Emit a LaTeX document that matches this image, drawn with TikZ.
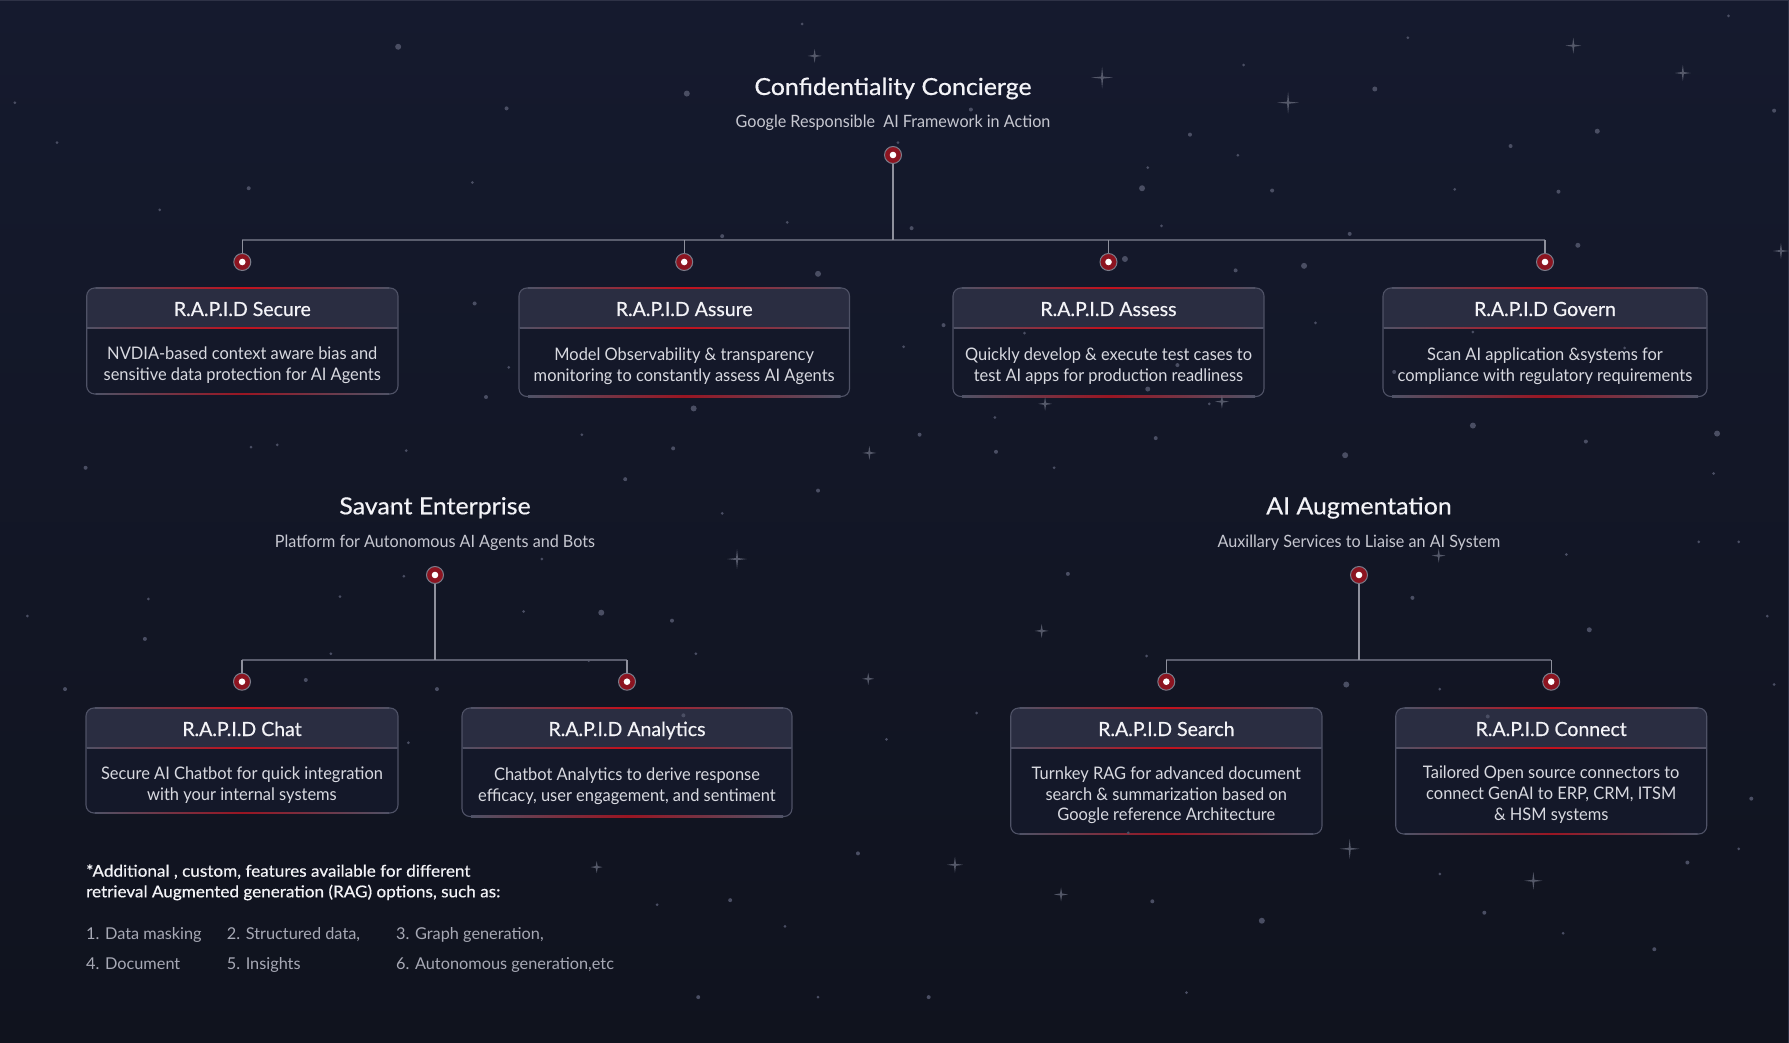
\documentclass[tikz,border=0pt]{standalone}
\usepackage{fontspec}
\setmainfont{Lato}
\newfontfamily\medfont[FakeBold=0.5]{Lato}
\newfontfamily\widemed[FakeBold=0.5,FakeStretch=1.06]{Lato}
\newfontfamily\notefont[FakeBold=0.5,FakeStretch=1.05]{Lato}
\newfontfamily\descfont[FakeStretch=0.95]{Lato}
\usetikzlibrary{calc}
\definecolor{bgtop}{HTML}{151A2E}
\definecolor{bgbot}{HTML}{10131E}
\definecolor{headfill}{HTML}{2A2D41}
\definecolor{bodyfill}{HTML}{141829}
\definecolor{bordercol}{HTML}{4F5266}
\definecolor{glow}{HTML}{C4101C}
\definecolor{softglow}{HTML}{9A1522}
\definecolor{stemcol}{HTML}{8E909C}
\definecolor{barcol}{HTML}{5A5D6D}
\definecolor{dotred}{HTML}{8C1420}
\definecolor{dotring}{HTML}{7A7C8A}
\definecolor{titlecol}{HTML}{F3F3F7}
\definecolor{subtxt}{HTML}{C6C7D0}
\definecolor{desctxt}{HTML}{D8D9E0}
\definecolor{listtxt}{HTML}{A7A9B5}
\definecolor{starcol}{HTML}{4A4E63}
\definecolor{edgecol}{HTML}{2E3246}
\tikzset{
  secttitle/.style={font=\widemed\fontsize{23.5}{28}\selectfont, text=titlecol, anchor=base, inner sep=0},
  sectsub/.style={font=\descfont\fontsize{17}{20}\selectfont, text=subtxt, anchor=base, inner sep=0},
  boxframe/.style={draw=bordercol, line width=1.1pt, rounded corners=8pt, inner sep=0, outer sep=0},
  boxtitle/.style={font=\medfont\fontsize{19.5}{23}\selectfont, text=titlecol, anchor=base, inner sep=0},
  desc/.style={font=\descfont\fontsize{17.3}{20}\selectfont, text=desctxt, anchor=base, inner sep=0},
  notetxt/.style={font=\notefont\fontsize{16.3}{20}\selectfont, text=titlecol, anchor=base west, inner sep=0},
  listitem/.style={font=\fontsize{16.3}{20}\selectfont, text=listtxt, anchor=base west, inner sep=0},
  pindot/.style={circle, fill=dotred, draw=dotring, line width=1pt, minimum size=17pt, inner sep=0,
    path picture={\fill[white] (path picture bounding box.center) circle (3.3pt);}},
  stem/.style={draw=stemcol, line width=1.3pt},
  barline/.style={draw=barcol, line width=1.4pt},
  glowline/.style={left color=bordercol, right color=bordercol, middle color=glow},
  softglowline/.style={left color=bordercol, right color=bordercol, middle color=softglow},
}
\newcommand\rapidbox[6]{%
  \begin{scope}
    \clip[rounded corners=8pt] (#2,#3) rectangle (#4,#5);
    \fill[bodyfill] (#2,#3) rectangle (#4,#5);
    \fill[headfill] (#2,#3) rectangle (#4,#3+40);
  \end{scope}
  \shade[glowline] (#2+0.5,#3+39.3) rectangle (#4-0.5,#3+40.7);
  \node[boxframe, minimum width={#4-#2}, minimum height={#5-#3}] (#1) at ({(#2+#4)/2},{(#3+#5)/2}) {};
  \shade[glowline] (#2+9,#3-0.7) rectangle (#4-9,#3+0.7);
  \shade[softglowline] (#2+9,#5-0.55) rectangle (#4-9,#5+0.55);
  \node[boxtitle] (#1-title) at ({(#2+#4)/2},#3+28) {#6};
}
\begin{document}
\begin{tikzpicture}[x=1pt,y=-1pt]
\useasboundingbox (0,0) rectangle (1789,1043);
\shade[top color=bgtop, bottom color=bgbot] (0,0) rectangle (1789,1043);
\draw[edgecol, line width=1.5pt] (0,0.75) -- (1788.25,0.75) -- (1788.25,1043);

% ---------- boxes ----------
\rapidbox{secure}{86.7}{288}{398}{394}{R.A.P.I.D Secure}
\rapidbox{assure}{519}{288}{849.5}{396.5}{R.A.P.I.D Assure}
\rapidbox{assess}{953}{288}{1264}{396.5}{R.A.P.I.D Assess}
\rapidbox{govern}{1383}{288}{1707}{396.5}{R.A.P.I.D Govern}
\rapidbox{chat}{86}{708}{398}{813}{R.A.P.I.D Chat}
\rapidbox{analytics}{462}{708}{792}{816.5}{R.A.P.I.D Analytics}
\rapidbox{search}{1010.7}{708}{1322}{834}{R.A.P.I.D Search}
\rapidbox{connect}{1395.7}{708}{1706.7}{834}{R.A.P.I.D Connect}

% ---------- stars ----------
\foreach \sx/\sy/\sr in {
349/41/3, 444/95/2, 602/82/3, 703/21/1.5, 1205/78/2.5, 1234/33/1.5, 1324/128/2, 1400/115/2.5,
1043/118/2, 1001/165/3, 1115/167/2, 1183/205/2, 1143/233/3, 1083/237/2, 1018/198/1.5, 1006/147/1.5,
986/227/3, 1085/136/1.5, 1275/166/1.5, 1366/168/2, 1383/215/2.5, 1291/291/1.5, 1291/373/3, 1179/399/3,
1222/326/2, 1424/305/1.5, 1390/387/2, 1502/415/1.5, 1505/380/3, 1524/475/1.5, 1555/600/1.5, 1535/700/2,
1393/552/2.5, 1373/486/1.5, 1238/524/2, 1262/604/1.5, 1304/628/2, 1180/600/3, 1106/807/3, 1262/766/1.5,
1301/800/2, 1370/818/1.5, 1479/756/2, 1524/744/1.5, 1450/832/2, 1040/870/1.5, 1010/790/2, 989/730/1.5,
856/625/1.5, 936/503/2, 1005/575/1.5, 924/410/1.5, 872/366/1.5, 873/396/2, 633/450/1.5, 717/430/2,
590/393/2, 608/358/3, 510/381/1.5, 548/420/2, 475/490/1.5, 459/536/1.5, 527/537/3, 516/579/1.5,
589/544/2, 610/573/1.5, 599/627/2, 657/700/3, 777/648/1.5, 752/748/2, 814/874/2, 576/793/1.5,
640/789/2, 688/812/1.5, 717/874/1.5, 612/874/2, 414/160/1.5, 416/266/2, 446/322/1.5, 426/348/2,
356/395/1.5, 343/444/1.5, 220/392/1.5, 243/390/1.5, 75/410/2, 24/540/1.5, 57/604/2, 130/525/1.5,
127/560/2, 298/523/1.5, 354/505/1.5, 290/573/1.5, 268/596/2, 383/604/2, 358/651/1.5, 690/195/1.5,
633/207/2, 717/240/3, 799/200/2, 787/125/1.5, 842/73/1.5, 851/96/2, 1090/57/1.5, 1153/283/1.5,
827/285/2, 792/304/1.5, 806/381/2, 898/292/1.5, 1013/384/2, 1006/341/2.5, 1060/354/1.5, 1032/320/2,
50/125/1.5, 13/90/1.5, 218/165/2, 140/184/1.5, 1489/475/1.5, 1555/97/2, 1515/14/1.5, 1549/540/1.5}
  \fill[starcol] (\sx*1.1409,\sy*1.1409) circle (\sr pt);
\foreach \sx/\sy/\ss in {966/68/11, 1129/90/11, 1379/40/8, 1475/64/8, 1561/220/8, 1183/744/10, 1344/772/9,
930/784/7, 837/758/8, 913/553/7, 916/354/7, 762/397/7, 646/490/10, 761/595/6, 523/760/6, 714/49/7,
1071/352/7, 1261/487/7}
  \fill[starcol!85!white, opacity=0.8] ({\sx*1.1409},{\sy*1.1409-\ss}) -- ({\sx*1.1409+1},{\sy*1.1409-1})
     -- ({\sx*1.1409+\ss},{\sy*1.1409}) -- ({\sx*1.1409+1},{\sy*1.1409+1}) -- ({\sx*1.1409},{\sy*1.1409+\ss})
     -- ({\sx*1.1409-1},{\sy*1.1409+1}) -- ({\sx*1.1409-\ss},{\sy*1.1409}) -- ({\sx*1.1409-1},{\sy*1.1409-1}) -- cycle;

% ---------- section titles ----------
\node[secttitle] (cc) at (893,95) {Confidentiality Concierge};
\node[sectsub] (ccsub) at (893,127.3) {Google Responsible\ \ AI Framework in Action};
\node[secttitle] (se) at (435,514.3) {Savant Enterprise};
\node[sectsub] (sesub) at (435,547.7) {Platform for Autonomous AI Agents and Bots};
\node[secttitle] (aa) at (1359,514.3) {AI Augmentation};
\node[sectsub] (aasub) at (1359,547.7) {Auxillary Services to Liaise an AI System};

% ---------- tree 1 ----------
\node[pindot] (r0) at (893,155) {};
\coordinate (b0) at (893,240);
\node[pindot] (c1) at (242.3,262) {};
\node[pindot] (c2) at (684.2,262) {};
\node[pindot] (c3) at (1108.5,262) {};
\node[pindot] (c4) at (1545,262) {};
\draw[barline] (c1.north |- b0) -- (c4.north |- b0);
\draw[stem] (r0) -- (b0);
\foreach \c in {c1,c2,c3,c4} \draw[stem] (\c.north |- b0) -- (\c);

% ---------- tree 2 ----------
\node[pindot] (r1) at (435,575) {};
\coordinate (b1) at (435,660);
\node[pindot] (c5) at (242,681.7) {};
\node[pindot] (c6) at (627,681.7) {};
\draw[barline] (c5.north |- b1) -- (c6.north |- b1);
\draw[stem] (r1) -- (b1);
\foreach \c in {c5,c6} \draw[stem] (\c.north |- b1) -- (\c);

% ---------- tree 3 ----------
\node[pindot] (r2) at (1359,575) {};
\coordinate (b2) at (1359,660);
\node[pindot] (c7) at (1166.3,681.7) {};
\node[pindot] (c8) at (1551.2,681.7) {};
\draw[barline] (c7.north |- b2) -- (c8.north |- b2);
\draw[stem] (r2) -- (b2);
\foreach \c in {c7,c8} \draw[stem] (\c.north |- b2) -- (\c);

% ---------- descriptions ----------
\node[desc] (secure-d1) at (242.3,359.5) {NVDIA-based context aware bias and};
\node[desc] (secure-d2) at (242.3,380) {sensitive data protection for AI Agents};
\node[desc] (assure-d1) at (684.2,360.5) {Model Observability \& transparency};
\node[desc] (assure-d2) at (684.2,381) {monitoring to constantly assess AI Agents};
\node[desc] (assess-d1) at (1108.5,360.5) {Quickly develop \& execute test cases to};
\node[desc] (assess-d2) at (1108.5,381) {test AI apps for production readliness};
\node[desc] (govern-d1) at (1545,360.5) {Scan AI application \&systems for};
\node[desc] (govern-d2) at (1545,381) {compliance with regulatory requirements};
\node[desc] (chat-d1) at (242,779) {Secure AI Chatbot for quick integration};
\node[desc] (chat-d2) at (242,800) {with your internal systems};
\node[desc] (analytics-d1) at (627,780) {Chatbot Analytics to derive response};
\node[desc] (analytics-d2) at (627,801) {efficacy, user engagement, and sentiment};
\node[desc] (search-d1) at (1166.3,779) {Turnkey RAG for advanced document};
\node[desc] (search-d2) at (1166.3,800) {search \& summarization based on};
\node[desc] (search-d3) at (1166.3,820.7) {Google reference Architecture};
\node[desc] (connect-d1) at (1551.2,778.5) {Tailored Open source connectors to};
\node[desc] (connect-d2) at (1551.2,799.3) {connect GenAI to ERP, CRM, ITSM};
\node[desc] (connect-d3) at (1551.2,820) {\& HSM systems};

% ---------- footnote ----------
\node[notetxt] (note1) at (86,876.7) {*Additional , custom, features available for different};
\node[notetxt] (note2) at (86,897.3) {retrieval Augmented generation (RAG) options, such as:};
\node[listitem] (li1) at (86,939.3) {1. Data masking};
\node[listitem] (li2) at (226.7,939.3) {2. Structured data,};
\node[listitem] (li3) at (396,939.3) {3. Graph generation,};
\node[listitem] (li4) at (86,969.3) {4. Document};
\node[listitem] (li5) at (226.7,969.3) {5. Insights};
\node[listitem] (li6) at (396,969.3) {6. Autonomous generation,etc};
\end{tikzpicture}
\end{document}
